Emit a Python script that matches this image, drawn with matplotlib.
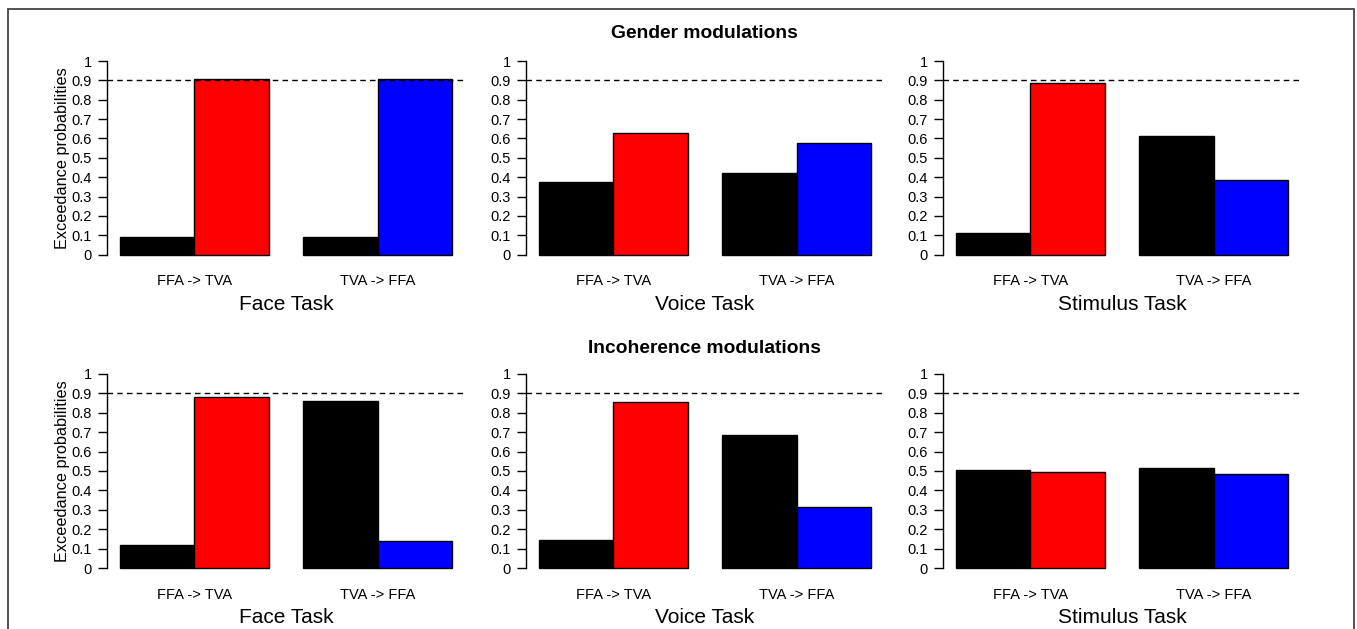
import matplotlib
matplotlib.use("Agg")
import matplotlib.pyplot as plt
from matplotlib.patches import Rectangle

plt.rcParams['font.family'] = ['Liberation Sans', 'DejaVu Sans']

# ---- data ----
row_titles = ["Gender modulations", "Incoherence modulations"]
task_labels = ["Face Task", "Voice Task", "Stimulus Task"]
group_labels = ["FFA -> TVA", "TVA -> FFA"]
y_ticks = [0, 0.1, 0.2, 0.3, 0.4, 0.5, 0.6, 0.7, 0.8, 0.9, 1]
y_tick_labels = ["0", "0.1", "0.2", "0.3", "0.4", "0.5", "0.6", "0.7", "0.8", "0.9", "1"]
threshold = 0.9

# [black, colored] per group, per panel
gender_ffa_tva = [[0.093, 0.907], [0.373, 0.627], [0.112, 0.888]]
gender_tva_ffa = [[0.092, 0.908], [0.424, 0.576], [0.612, 0.388]]
incoh_ffa_tva = [[0.121, 0.879], [0.148, 0.852], [0.503, 0.497]]
incoh_tva_ffa = [[0.858, 0.142], [0.683, 0.317], [0.515, 0.485]]

rows = [(gender_ffa_tva, gender_tva_ffa), (incoh_ffa_tva, incoh_tva_ffa)]

fig = plt.figure(figsize=(13.57, 6.29), dpi=100)
W, H = 1357, 629

# outer frame
fig.patches.append(Rectangle((7.5 / W, -0.05), (1354 - 7.5) / W, 1 - 8.5 / H + 0.05,
                             transform=fig.transFigure, fill=False,
                             edgecolor='#444444', linewidth=1.3))

g2_start = 2.47
lefts_px = [107, 526, 943]
width_px = 358
row_y = [(53.3, 262.4), (365.9, 576.1)]  # top, bottom px
title_y_px = [34, 349]
task_baseline_px = [310, 623]

for r, (ffa_tva, tva_ffa) in enumerate(rows):
    top, bot = row_y[r]
    for c in range(3):
        ax = fig.add_axes([lefts_px[c] / W, 1 - bot / H, width_px / W, (bot - top) / H])
        g1 = ffa_tva[c]
        g2 = tva_ffa[c]
        ax.bar([0, 1], [g1[0], g1[1]], width=1, align='edge',
               color=['black', '#FF0000'], edgecolor='black', linewidth=1.0, zorder=2)
        ax.bar([g2_start, g2_start + 1], [g2[0], g2[1]], width=1, align='edge',
               color=['black', '#0000FF'], edgecolor='black', linewidth=1.0, zorder=2)
        ax.axhline(threshold, color='black', linestyle=(0, (4, 3)), linewidth=1.0, zorder=3)
        ax.set_xlim(-0.18, g2_start + 2 + 0.18)
        ax.set_ylim(-0.04, 1.04)
        for s in ['top', 'right', 'bottom']:
            ax.spines[s].set_visible(False)
        ax.spines['left'].set_bounds(0, 1)
        ax.spines['left'].set_linewidth(1.0)
        ax.set_yticks(y_ticks)
        ax.set_yticklabels(y_tick_labels, fontsize=10.5)
        ax.tick_params(axis='y', length=6.5, width=1.0, pad=4.3, direction='out')
        ax.set_xticks([1, g2_start + 1])
        ax.set_xticklabels(group_labels, fontsize=10.5)
        ax.tick_params(axis='x', length=0, pad=8.5)
        ax.set_xlabel(task_labels[c], fontsize=15, va='baseline')
        ax.xaxis.set_label_coords(0.5, (bot - task_baseline_px[r]) / (bot - top))
        ax.patch.set_alpha(0)
        if c == 0:
            ax.set_ylabel("Exceedance probabilities", fontsize=11.7, va='center')
            ax.yaxis.set_label_coords(-45 / width_px, 0.5)
    fig.text(704 / W, 1 - title_y_px[r] / H, row_titles[r], ha='center', va='center',
             fontsize=13.9, fontweight='bold')

fig.savefig("out.png", dpi=100)
